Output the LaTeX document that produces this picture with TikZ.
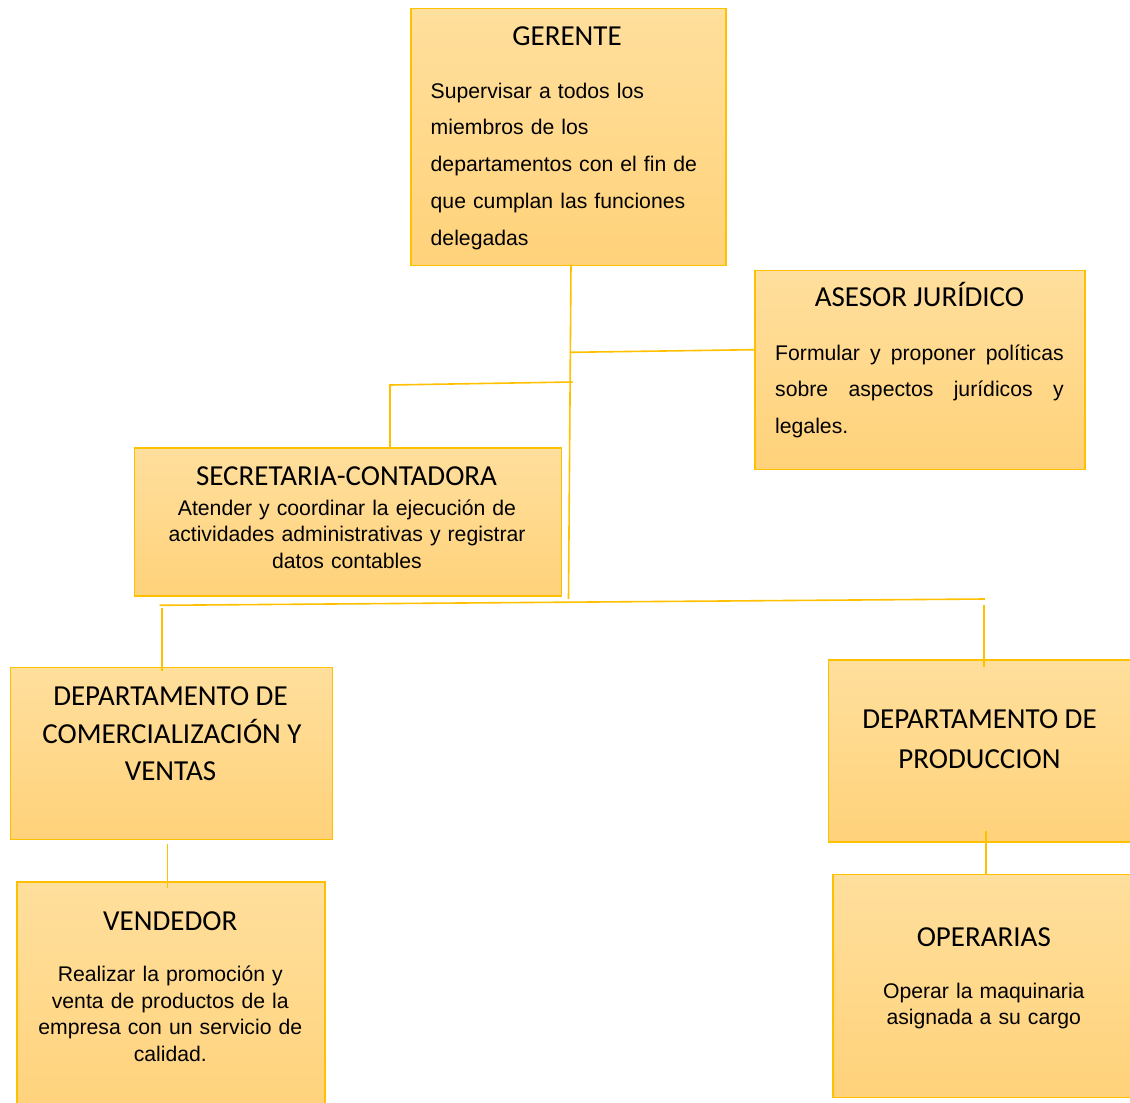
\documentclass[tikz,border=0pt]{standalone}
\usepackage{fontspec}
\setmainfont{Liberation Sans}
\newfontfamily\titlefont{Carlito}
\definecolor{boxtop}{HTML}{FFDF9D}
\definecolor{boxbot}{HTML}{FFD27A}
\definecolor{gold}{HTML}{FFC000}
\tikzset{
  box/.style={draw=gold, line width=1.5pt, rectangle, inner sep=0pt,
    top color=boxtop, bottom color=boxbot, anchor=north west},
  ttl/.style={font=\titlefont\fontsize{29}{38}\selectfont, inner sep=0pt, anchor=base},
  body/.style={font=\fontsize{21.2}{26.6}\selectfont, inner sep=0pt, anchor=base,
    align=center, text width=#1},
  wide/.style={font=\fontsize{21.2}{36.8}\selectfont, inner sep=0pt},
  link/.style={draw=gold, line width=1.6pt},
}
\begin{document}
\begin{tikzpicture}[x=1pt,y=-1pt]
\useasboundingbox (0,0) rectangle (1130,1103);
\clip (0,0) rectangle (1130,1103);

% boxes
\node[box, minimum width=315pt, minimum height=257pt] (ger) at (410,7.5) {};
\node[box, minimum width=330pt, minimum height=199pt] (ase) at (754,269.5) {};
\node[box, minimum width=427pt, minimum height=148pt] (sec) at (133.5,447) {};
\node[box, minimum width=322pt, minimum height=172pt] (com) at (9.5,666.5) {};
\node[box, minimum width=310pt, minimum height=182pt] (pro) at (827.5,659) {};
\node[box, minimum width=308pt, minimum height=240pt] (ven) at (16,881) {};
\node[box, minimum width=305pt, minimum height=223pt] (ope) at (832,873.5) {};

% GERENTE
\node[ttl] (gerT) at (567,45) {GERENTE};
\node[wide, anchor=base west, text width=295pt, align=left] (gerB) at (430.5,98)
  {Supervisar a todos los\\ miembros de los\\ departamentos con el fin de\\ que cumplan las funciones\\ delegadas};

% ASESOR JURIDICO
\node[ttl] (aseT) at (919.5,306.5) {ASESOR JURÍDICO};
\node[wide, anchor=base west, text width=288.5pt, align=justify] (aseB) at (775,360)
  {Formular y proponer políticas\linebreak sobre aspectos jurídicos y\linebreak legales.};

% SECRETARIA-CONTADORA
\node[ttl] (secT) at (346.5,485) {SECRETARIA-CONTADORA};
\node[body=420pt] (secB) at (347,515)
  {Atender y coordinar la ejecución de\\ actividades administrativas y registrar\\ datos contables};

% DEPARTAMENTO DE COMERCIALIZACION Y VENTAS
\node[ttl] (comT1) at (170.5,705) {DEPARTAMENTO DE};
\node[ttl] (comT2) at (172,743.3) {COMERCIALIZACIÓN Y};
\node[ttl] (comT3) at (170.5,780.5) {VENTAS};

% DEPARTAMENTO DE PRODUCCION
\node[ttl] (proT1) at (979.5,728.3) {DEPARTAMENTO DE};
\node[ttl] (proT2) at (979.5,768.3) {PRODUCCION};

% VENDEDOR
\node[ttl] (venT) at (170.3,930) {VENDEDOR};
\node[body=300pt] (venB) at (170.3,981.7)
  {Realizar la promoción y\\ venta de productos de la\\ empresa con un servicio de\\ calidad.};

% OPERARIAS
\node[ttl] (opeT) at (983.8,946) {OPERARIAS};
\node[body=290pt] (opeB) at (983.8,998.3)
  {Operar la maquinaria\\ asignada a su cargo};

% junction points of the connector lines
\coordinate (spTop) at (571,264.5);
\coordinate (spBot) at (568.5,599);
\coordinate (jAse) at (571,352.3);
\coordinate (aseIn) at (754,349.7);
\coordinate (jSec) at (572.7,382);
\coordinate (secK) at (390,385);
\coordinate (busL) at (159.5,605.3);
\coordinate (busR) at (984.8,599);
\coordinate (comA) at (161.7,608);
\coordinate (comB) at (161.7,671);
\coordinate (proA) at (984.2,605);
\coordinate (proB) at (984.2,666.7);
\coordinate (venA) at (167.5,844.3);
\coordinate (venB2) at (167.5,888);
\coordinate (opeA) at (985.7,830.7);
\coordinate (opeB2) at (985.7,875);

% connectors
\draw[link] (spTop) -- (spBot);
\draw[link] (jAse) -- (aseIn);
\draw[link] (jSec) -- (secK) -- (secK |- sec.north);
\draw[link] (busL) -- (busR);
\draw[link] (comA) -- (comB);
\draw[link] (proA) -- (proB);
\draw[link] (venA) -- (venB2);
\draw[link] (opeA) -- (opeB2);
\end{tikzpicture}
\end{document}
